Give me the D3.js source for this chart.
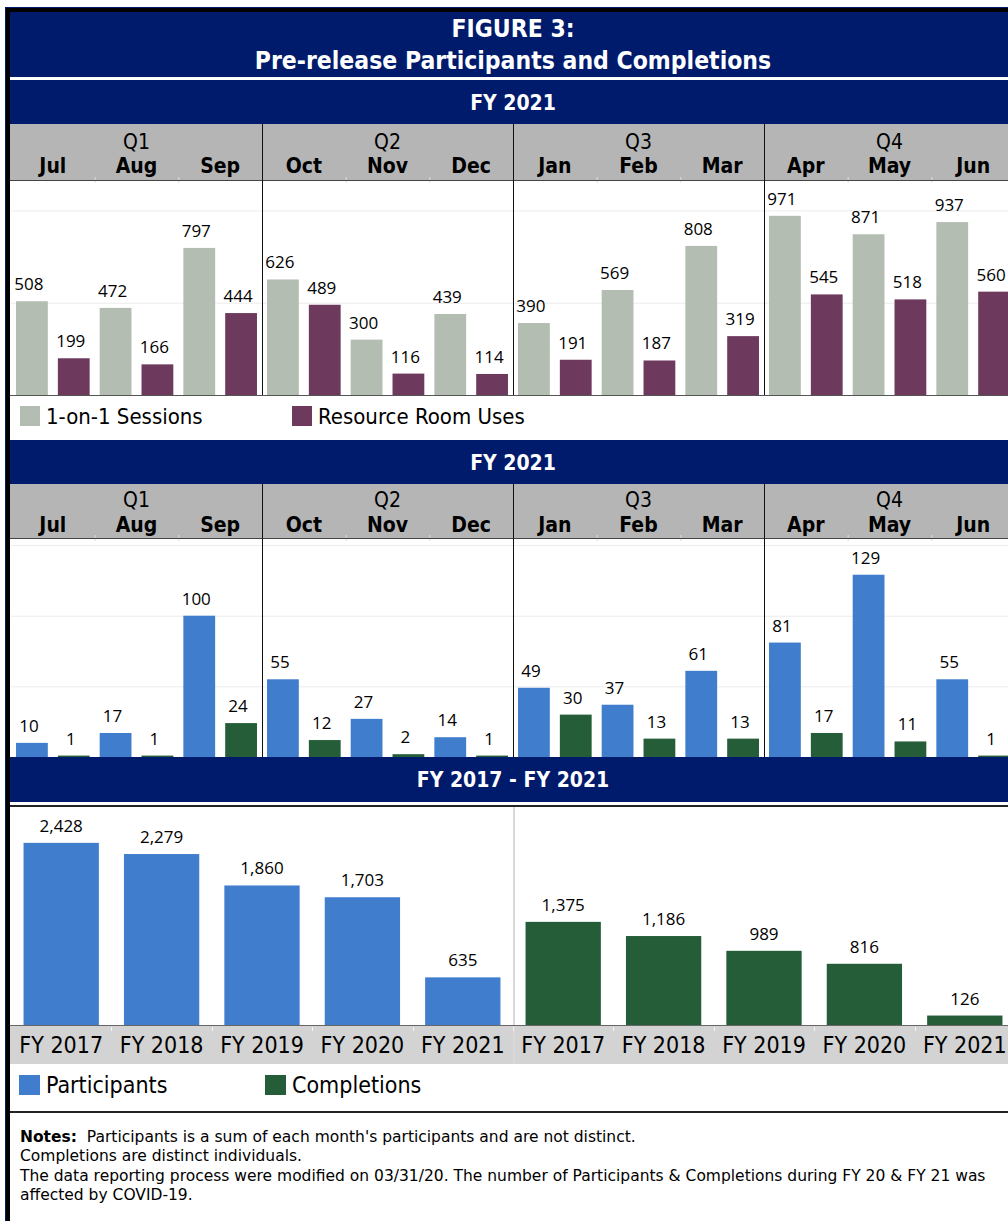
<!DOCTYPE html>
<html>
<head>
<meta charset="utf-8">
<script src="https://cdn.jsdelivr.net/npm/d3@7"></script>
<style>
  body { margin: 0; background: #fff; }
  svg { display: block; }
  .hdr { font-family: 'DejaVu Sans Condensed', 'DejaVu Sans', sans-serif; font-stretch: condensed; }
  .note { font-family: 'DejaVu Sans', sans-serif; }
  .val { font-family: 'Open Sans', sans-serif; font-size: 17px; fill: #000; }
</style>
</head>
<body>
<div id="chart"></div>
<script>
// ---- data ----
const quarters = ["Q1", "Q2", "Q3", "Q4"];
const months = ["Jul", "Aug", "Sep", "Oct", "Nov", "Dec", "Jan", "Feb", "Mar", "Apr", "May", "Jun"];

const sessions = [508, 472, 797, 626, 300, 439, 390, 569, 808, 971, 871, 937];
const resourceUses = [199, 166, 444, 489, 116, 114, 191, 187, 319, 545, 518, 560];

const monthlyParticipants = [10, 17, 100, 55, 27, 14, 49, 37, 61, 81, 129, 55];
const monthlyCompletions = [1, 1, 24, 12, 2, 1, 30, 13, 13, 17, 11, 1];

const fiscalYears = ["FY 2017", "FY 2018", "FY 2019", "FY 2020", "FY 2021"];
const yearlyParticipants = [2428, 2279, 1860, 1703, 635];
const yearlyCompletions = [1375, 1186, 989, 816, 126];

const noteLines = [
  "Completions are distinct individuals.",
  "The data reporting process were modified on 03/31/20. The number of Participants & Completions during FY 20 & FY 21 was",
  "affected by COVID-19."
];

// ---- colours ----
const navy = '#001a6c';
const headGray = '#b5b5b5';
const bandGray = '#d3d3d3';
const cSessions = '#b3bdb1';
const cResource = '#6d3a5e';
const cPart = '#407dcc';
const cComp = '#245d38';

const w = 1008, h = 1221;
const left = 11, right = 1015;

const svg = d3.select('#chart').append('svg')
  .attr('width', w).attr('height', h)
  .style('background', '#fff');

// frame
svg.append('rect').attr('x', 5).attr('y', 7).attr('width', w).attr('height', h).attr('fill', navy);
svg.append('rect').attr('x', 6).attr('y', 8).attr('width', w).attr('height', h).attr('fill', '#000');
svg.append('rect').attr('x', 10).attr('y', 12).attr('width', w).attr('height', h).attr('fill', '#fff');

function navyBand(y0, y1, lines, size, baseline, lineGap) {
  svg.append('rect').attr('x', 10).attr('y', y0).attr('width', w).attr('height', y1 - y0).attr('fill', navy);
  lines.forEach((t, i) => {
    svg.append('text').attr('class', 'hdr')
      .attr('x', 513).attr('y', baseline + i * (lineGap || 0))
      .attr('text-anchor', 'middle')
      .attr('fill', '#fff').attr('font-weight', 'bold').attr('font-size', size)
      .text(t);
  });
}

// title
navyBand(12, 77, ["FIGURE 3:", "Pre-release Participants and Completions"], 24.5, 37, 32);

const monthKeys = [];
months.forEach(m => { monthKeys.push(m + '-a'); monthKeys.push(m + '-b'); });

const xBar = d3.scaleBand().domain(monthKeys).range([left, right]).paddingInner(0.24).paddingOuter(0.12);
const xMonth = d3.scaleBand().domain(months).range([left, right]);
const xQuarter = d3.scaleBand().domain(quarters).range([left, right]);

function monthlyPanel(cfg) {
  const { top, headTop, headBottom, bottom, yMax, grid, a, b, colA, colB, qBase, mBase } = cfg;

  // gray header
  svg.append('rect').attr('x', 10).attr('y', headTop).attr('width', w).attr('height', headBottom - headTop).attr('fill', headGray);

  const qAxis = svg.append('g').attr('transform', `translate(0,${qBase})`)
    .call(d3.axisBottom(xQuarter).tickSize(0));
  qAxis.select('.domain').remove();
  qAxis.selectAll('text').attr('y', 0).attr('dy', 0)
    .attr('class', 'hdr').attr('font-size', 21).attr('fill', '#000');

  const mAxis = svg.append('g').attr('transform', `translate(0,${mBase})`)
    .call(d3.axisBottom(xMonth).tickSize(0));
  mAxis.select('.domain').remove();
  mAxis.selectAll('text').attr('y', 0).attr('dy', 0)
    .attr('class', 'hdr').attr('font-size', 21).attr('font-weight', 'bold').attr('fill', '#000');

  const y = d3.scaleLinear().domain([0, yMax]).range([bottom, top]);

  // gridlines
  const g = svg.append('g').attr('transform', `translate(${left},0)`)
    .call(d3.axisLeft(y).tickValues(grid).tickSize(-(right - left)).tickFormat(''));
  g.select('.domain').remove();
  g.selectAll('line').attr('stroke', '#ececec');

  // small month ticks under header
  svg.append('g').selectAll('line').data(months.slice(1))
    .join('line')
    .attr('x1', d => xMonth(d) + 0.5).attr('x2', d => xMonth(d) + 0.5)
    .attr('y1', headBottom - 3).attr('y2', headBottom + 3)
    .attr('stroke', '#ddd');

  svg.append('line').attr('x1', 10).attr('x2', w).attr('y1', headBottom + 0.5).attr('y2', headBottom + 0.5)
    .attr('stroke', '#444');

  const rows = months.map((m, i) => ({ m, a: a[i], b: b[i] }));

  svg.append('g').selectAll('rect').data(rows).join('rect')
    .attr('x', d => xBar(d.m + '-a')).attr('width', xBar.bandwidth())
    .attr('y', d => y(d.a)).attr('height', d => y(0) - y(d.a))
    .attr('fill', colA);
  svg.append('g').selectAll('rect').data(rows).join('rect')
    .attr('x', d => xBar(d.m + '-b')).attr('width', xBar.bandwidth())
    .attr('y', d => y(d.b)).attr('height', d => y(0) - y(d.b))
    .attr('fill', colB);

  svg.append('g').selectAll('text').data(rows).join('text').attr('class', 'val')
    .attr('x', d => xBar(d.m + '-a') + xBar.bandwidth() / 2 - 3)
    .attr('y', d => y(d.a) - 11).attr('text-anchor', 'middle')
    .text(d => d3.format(',')(d.a));
  svg.append('g').selectAll('text').data(rows).join('text').attr('class', 'val')
    .attr('x', d => xBar(d.m + '-b') + xBar.bandwidth() / 2 - 3)
    .attr('y', d => y(d.b) - 11).attr('text-anchor', 'middle')
    .text(d => d3.format(',')(d.b));

  // quarter separators
  svg.append('g').selectAll('line').data(quarters.slice(1)).join('line')
    .attr('x1', d => Math.round(xQuarter(d)) + 0.5).attr('x2', d => Math.round(xQuarter(d)) + 0.5)
    .attr('y1', headTop).attr('y2', bottom)
    .attr('stroke', '#111');

  // baseline
  svg.append('line').attr('x1', 10).attr('x2', w).attr('y1', bottom + 0.5).attr('y2', bottom + 0.5)
    .attr('stroke', '#555');
}

// panel 1
navyBand(80, 124, ["FY 2021"], 21, 110);
monthlyPanel({
  headTop: 124, headBottom: 180, top: 180, bottom: 395, yMax: 1165, grid: [500, 1000],
  a: sessions, b: resourceUses, colA: cSessions, colB: cResource, qBase: 149, mBase: 173
});

function legend(items, y, size, sq) {
  items.forEach(it => {
    svg.append('rect').attr('x', it.x).attr('y', y).attr('width', sq[0]).attr('height', sq[1]).attr('fill', it.color);
    svg.append('text').attr('class', 'hdr').attr('x', it.x + sq[0] + 6).attr('y', y + sq[1] - 2)
      .attr('font-size', size).attr('fill', '#000').text(it.label);
  });
}

legend([
  { x: 20, color: cSessions, label: '1-on-1 Sessions' },
  { x: 292, color: cResource, label: 'Resource Room Uses' }
], 406, 22, [20, 20]);

// panel 2
navyBand(440, 484, ["FY 2021"], 21, 470);
monthlyPanel({
  headTop: 484, headBottom: 538, top: 538, bottom: 757, yMax: 155, grid: [50, 100, 150],
  a: monthlyParticipants, b: monthlyCompletions, colA: cPart, colB: cComp, qBase: 507, mBase: 532
});

// panel 3
navyBand(757, 802, ["FY 2017 - FY 2021"], 21, 787);
svg.append('rect').attr('x', 10).attr('y', 805).attr('width', w).attr('height', 2).attr('fill', '#222');

const yearKeys = fiscalYears.map(f => 'P ' + f).concat(fiscalYears.map(f => 'C ' + f));
const xYear = d3.scaleBand().domain(yearKeys).range([left, right]).paddingInner(0.25).paddingOuter(0.125);
const xSlot = d3.scaleBand().domain(yearKeys).range([left, right]);
const y3 = d3.scaleLinear().domain([0, 2906]).range([1025, 807]);

svg.append('rect').attr('x', 10).attr('y', 1026).attr('width', w).attr('height', 38).attr('fill', bandGray);

// divider between the two groups
svg.append('line')
  .attr('x1', Math.round(xSlot('C FY 2017')) + 1).attr('x2', Math.round(xSlot('C FY 2017')) + 1)
  .attr('y1', 807).attr('y2', 1064).attr('stroke', '#d9d9d9').attr('stroke-width', 2);

svg.append('g').selectAll('line').data(yearKeys.slice(1)).join('line')
  .attr('x1', d => Math.round(xSlot(d)) + 0.5).attr('x2', d => Math.round(xSlot(d)) + 0.5)
  .attr('y1', 1027).attr('y2', 1031).attr('stroke', '#f4f4f4');

const yearRows = yearKeys.map((k, i) => ({
  k,
  v: i < 5 ? yearlyParticipants[i] : yearlyCompletions[i - 5],
  color: i < 5 ? cPart : cComp
}));

svg.append('g').selectAll('rect').data(yearRows).join('rect')
  .attr('x', d => xYear(d.k)).attr('width', xYear.bandwidth())
  .attr('y', d => y3(d.v)).attr('height', d => y3(0) - y3(d.v))
  .attr('fill', d => d.color);

svg.append('g').selectAll('text').data(yearRows).join('text').attr('class', 'val')
  .attr('x', d => xYear(d.k) + xYear.bandwidth() / 2)
  .attr('y', d => y3(d.v) - 11).attr('text-anchor', 'middle')
  .text(d => d3.format(',')(d.v));

svg.append('line').attr('x1', 10).attr('x2', w).attr('y1', 1025.5).attr('y2', 1025.5).attr('stroke', '#666');

const xAx = svg.append('g').attr('transform', 'translate(0,1053)')
  .call(d3.axisBottom(xSlot).tickSize(0).tickFormat(d => d.slice(2)));
xAx.select('.domain').remove();
xAx.selectAll('text').attr('y', 0).attr('dy', 0)
  .attr('class', 'hdr').attr('font-size', 23).attr('fill', '#000');

legend([
  { x: 19, color: cPart, label: 'Participants' },
  { x: 265, color: cComp, label: 'Completions' }
], 1075, 23, [21, 20]);

svg.append('rect').attr('x', 10).attr('y', 1111).attr('width', w).attr('height', 2).attr('fill', '#222');

// notes
const notes = svg.append('g').attr('class', 'note').attr('font-size', 15.5).attr('fill', '#000');
const first = notes.append('text').attr('x', 20).attr('y', 1142);
first.append('tspan').attr('font-weight', 'bold').text('Notes:');
first.append('tspan').text('\u00a0 Participants is a sum of each month\'s participants and are not distinct.');
noteLines.forEach((t, i) => {
  notes.append('text').attr('x', 20).attr('y', 1161 + i * 19.5).text(t);
});
</script>
</body>
</html>
